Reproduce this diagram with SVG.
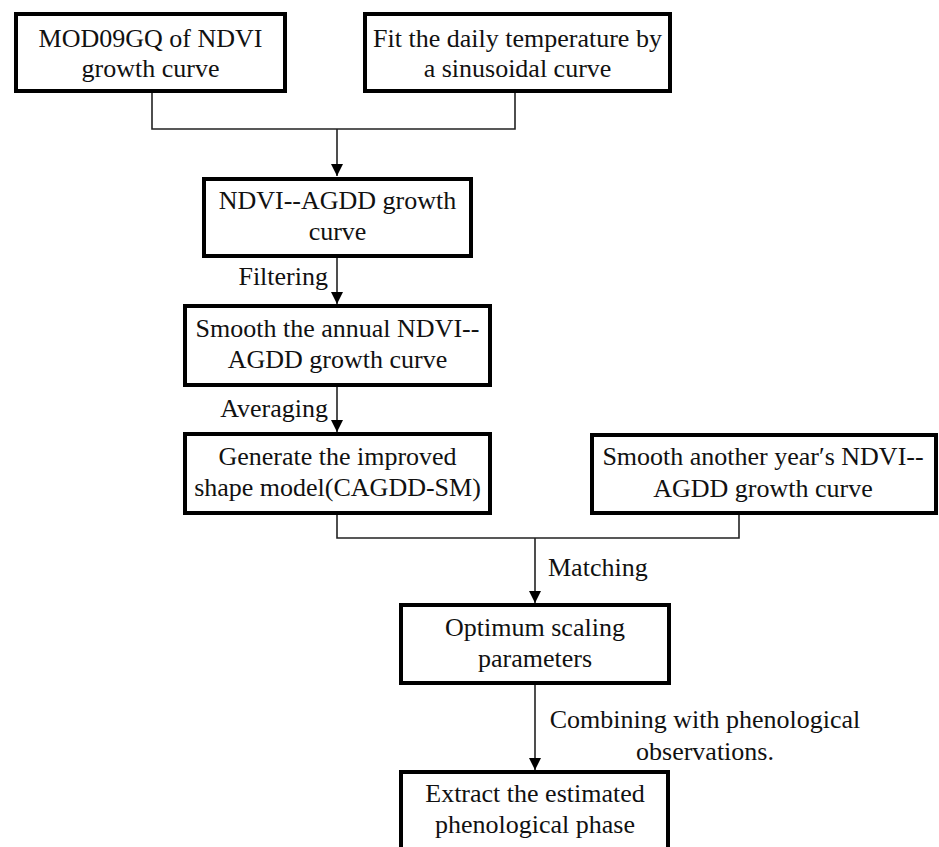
<svg xmlns="http://www.w3.org/2000/svg" width="939" height="847" viewBox="0 0 939 847">
<defs>
<style>
.box{fill:#fff;stroke:#000;stroke-width:4}
.t{font-family:"Liberation Serif","Times New Roman",serif;font-size:26px;fill:#111;text-anchor:middle}
.lbl{font-family:"Liberation Serif","Times New Roman",serif;font-size:26px;fill:#111}
.c{fill:none;stroke:#222;stroke-width:1.6}
</style>
<marker id="ah" viewBox="0 0 12 12" refX="12" refY="6" markerWidth="12" markerHeight="12" markerUnits="userSpaceOnUse" orient="auto">
<path d="M0,0 L12,6 L0,12 z" fill="#000"/>
</marker>
</defs>
<rect width="939" height="847" fill="#fff"/>
<g id="connectors">
<path class="c" d="M152 93 V129 H515 V93"/>
<path class="c" d="M337 129 V176" marker-end="url(#ah)"/>
<path class="c" d="M337 258 V304" marker-end="url(#ah)"/>
<path class="c" d="M337 387 V432" marker-end="url(#ah)"/>
<path class="c" d="M337 515 V538 H739 V515"/>
<path class="c" d="M535 538 V603" marker-end="url(#ah)"/>
<path class="c" d="M535 685 V770" marker-end="url(#ah)"/>
<text class="lbl" x="328" y="285" text-anchor="end">Filtering</text>
<text class="lbl" x="328" y="417" text-anchor="end">Averaging</text>
<text class="lbl" x="548" y="576">Matching</text>
<text class="lbl" x="705" y="728" text-anchor="middle">Combining with phenological</text>
<text class="lbl" x="705" y="760" text-anchor="middle">observations.</text>
</g>
<g id="n1">
<rect class="box" x="16" y="14" width="269" height="77"/>
<text class="t" x="150.5" y="47">MOD09GQ of NDVI</text>
<text class="t" x="150.5" y="77">growth curve</text>
</g>
<g id="n2">
<rect class="box" x="365" y="14" width="305" height="77"/>
<text class="t" x="517.5" y="47">Fit the daily temperature by</text>
<text class="t" x="517.5" y="77">a sinusoidal curve</text>
</g>
<g id="n3">
<rect class="box" x="204" y="179" width="267" height="77"/>
<text class="t" x="337.5" y="209">NDVI--AGDD growth</text>
<text class="t" x="337.5" y="240">curve</text>
</g>
<g id="n4">
<rect class="box" x="185" y="306" width="305" height="79"/>
<text class="t" x="337.5" y="337">Smooth the annual NDVI--</text>
<text class="t" x="337.5" y="368">AGDD growth curve</text>
</g>
<g id="n5">
<rect class="box" x="185" y="434" width="305" height="79"/>
<text class="t" x="337.5" y="465">Generate the improved</text>
<text class="t" x="337.5" y="496">shape model(CAGDD-SM)</text>
</g>
<g id="n6">
<rect class="box" x="592" y="435" width="344" height="78"/>
<text class="t" x="763" y="465">Smooth another year′s NDVI--</text>
<text class="t" x="763" y="497">AGDD growth curve</text>
</g>
<g id="n7">
<rect class="box" x="401" y="605" width="268" height="78"/>
<text class="t" x="535" y="636">Optimum scaling</text>
<text class="t" x="535" y="667">parameters</text>
</g>
<g id="n8">
<rect class="box" x="401" y="772" width="267" height="82"/>
<text class="t" x="535" y="802">Extract the estimated</text>
<text class="t" x="535" y="833">phenological phase</text>
</g>
</svg>
